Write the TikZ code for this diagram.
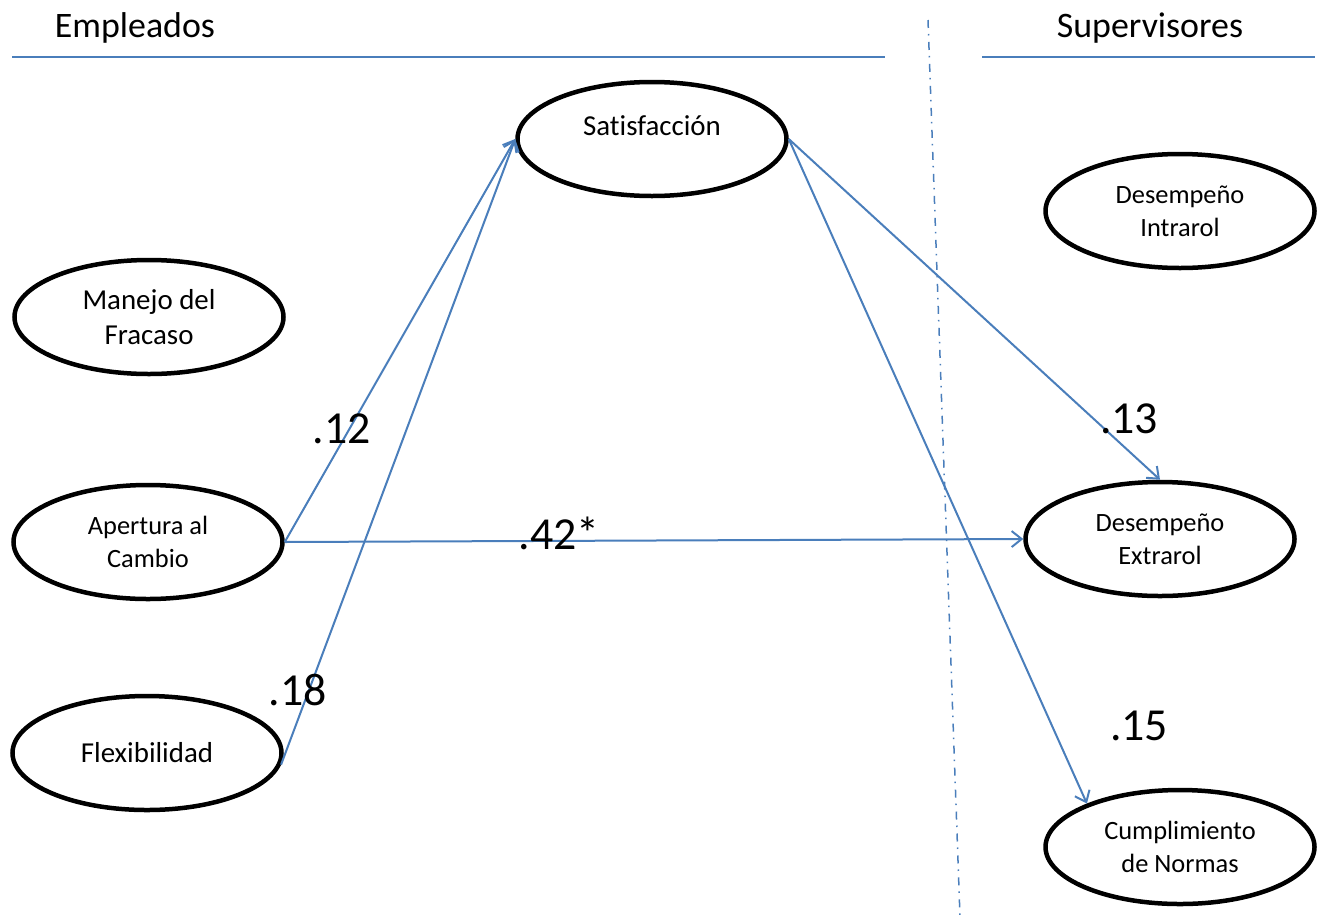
\documentclass[tikz,border=0pt]{standalone}
\usepackage{fontspec}
\setmainfont{Carlito}[Ligatures=NoCommon]
\usetikzlibrary{shapes.geometric,arrows.meta}
\definecolor{wordblue}{RGB}{74,126,187}

\begin{document}
\begin{tikzpicture}[x=1bp,y=-1bp,
  var/.style={ellipse,draw,line width=4.5bp,minimum width=269bp,minimum height=114bp,inner sep=0pt,align=center},
  big/.style={font=\fontsize{29}{35}\selectfont},
  small/.style={font=\fontsize{26.5}{33}\selectfont},
  head/.style={font=\fontsize{36}{40}\selectfont,anchor=base},
  coef/.style={font=\fontsize{46}{50}\selectfont,anchor=base},
  link/.style={draw=wordblue,line width=2bp,-{Straight Barb[length=10bp,width=16bp]}},
  rule/.style={draw=wordblue,line width=2bp}
  ]
\useasboundingbox (0,0) rectangle (1326,917);

% headings
\node[head] (emp) at (135,37) {Empleados};
\node[head] (sup) at (1150,37) {Supervisores};
\coordinate (hl1) at (12,57);
\coordinate (hl2) at (885,57);
\coordinate (hr1) at (982,57);
\coordinate (hr2) at (1315,57);
\draw[rule] (hl1) -- (hl2);
\draw[rule] (hr1) -- (hr2);

% divider
\coordinate (dtop) at (928,20);
\coordinate (dbot) at (960,917);
\draw[wordblue,line width=1.5bp,dash pattern=on 8bp off 6bp on 1.5bp off 6.5bp] (dtop) -- (dbot);

% variables
\node[var,label={[big,name=satText,yshift=13bp]center:Satisfacción}] (sat) at (652,139) {};
\node[var,big] (manejo) at (149,317) {Manejo del\\Fracaso};
\node[var,small] (apert) at (148,542) {Apertura al\\Cambio};
\node[var,big] (flex) at (147,753) {Flexibilidad};
\node[var,small] (intra) at (1180,211) {Desempeño\\Intrarol};
\node[var,small] (extra) at (1160,539) {Desempeño\\Extrarol};
\node[var,small] (cumpl) at (1180,847) {Cumplimiento\\de Normas};

% paths
\draw[link] (apert.east) -- (sat.west);
\draw[link] (flex.-5) -- (sat.west);
\draw[link] (apert.east) -- (extra.west);
\draw[link] (sat.east) -- (extra.north);
\draw[link] (sat.east) -- (cumpl.155);

% coefficients
\node[coef] (c12) at (342,443) {.12};
\node[coef] (c42) at (559,549) {.42*};
\node[coef] (c18) at (298,705) {.18};
\node[coef] (c13) at (1129,433) {.13};
\node[coef] (c15) at (1139,740) {.15};
\end{tikzpicture}
\end{document}
